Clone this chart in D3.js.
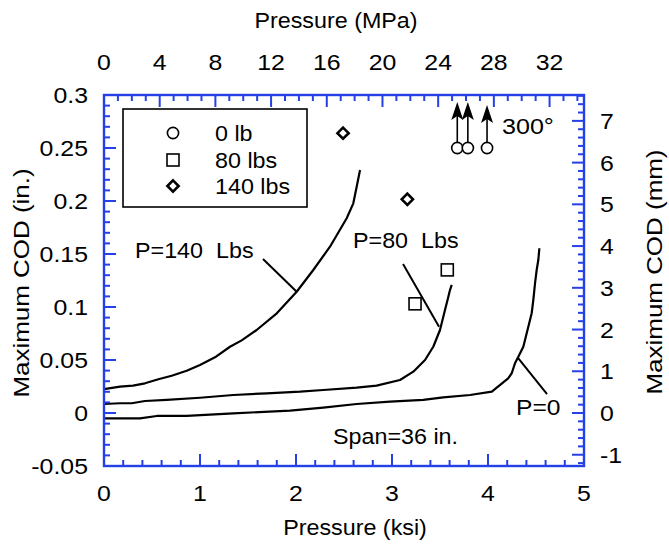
<!DOCTYPE html>
<html>
<head>
<meta charset="utf-8">
<script src="https://cdn.jsdelivr.net/npm/d3@7"></script>
<style>
  html, body { margin: 0; padding: 0; background: #fff; }
  svg { display: block; }
  text { font-family: "Liberation Sans", Arial, Helvetica, sans-serif; fill: #000; white-space: pre; }
</style>
</head>
<body>
<svg id="chart" width="669" height="546"></svg>
<script>
// ---- data (pressure in ksi, maximum COD in inches) ----
const curveP0 = [
  [0, -0.005], [0.167, -0.005], [0.375, -0.005], [0.549, -0.0028], [0.861, -0.0028],
  [1.347, -0.0003], [1.9375, 0.0022], [2.284, 0.005], [2.632, 0.0085], [2.979, 0.0107],
  [3.326, 0.0123], [3.534, 0.0148], [3.8125, 0.017], [4.04, 0.0201], [4.21, 0.0327],
  [4.247, 0.0375], [4.281, 0.0469], [4.316, 0.0531], [4.368, 0.0625], [4.42, 0.0814],
  [4.455, 0.0941], [4.472, 0.1066], [4.49, 0.1224], [4.507, 0.1349], [4.524, 0.1443],
  [4.535, 0.1554]
];
const curveP80 = [
  [0, 0.0085], [0.167, 0.0092], [0.289, 0.0092], [0.427, 0.0113], [0.653, 0.0123],
  [1.0, 0.0144], [1.347, 0.017], [1.695, 0.0186], [2.042, 0.0201], [2.284, 0.0217],
  [2.632, 0.0239], [2.84, 0.0258], [3.083, 0.0311], [3.222, 0.039], [3.344, 0.05],
  [3.43, 0.0625], [3.5, 0.0783], [3.552, 0.0972], [3.587, 0.1097], [3.604, 0.116],
  [3.622, 0.1208]
];
const curveP140 = [
  [0, 0.0225], [0.167, 0.0248], [0.302, 0.0258], [0.427, 0.028], [0.566, 0.0318],
  [0.705, 0.0352], [0.861, 0.0399], [1.0, 0.0453], [1.156, 0.0525], [1.3125, 0.0625],
  [1.434, 0.0685], [1.59, 0.0783], [1.8, 0.094], [2.007, 0.1144], [2.18, 0.1349],
  [2.354, 0.1569], [2.528, 0.1837], [2.597, 0.1978], [2.632, 0.2135], [2.667, 0.2292]
];

// measured points for each load
const pts0lb = [[3.68, 0.25], [3.79, 0.25], [3.99, 0.25]];   // off-scale (arrows)
const pts80lb = [[3.24, 0.103], [3.576, 0.135]];
const pts140lb = [[2.49, 0.264], [3.16, 0.2016]];

const legendLabels = ["0 lb", "80 lbs", "140 lbs"];

// axis ticks
const ksiTicks = [0, 1, 2, 3, 4, 5];
const mpaTicks = [0, 4, 8, 12, 16, 20, 24, 28, 32];
const inTicks = [-0.05, 0, 0.05, 0.1, 0.15, 0.2, 0.25, 0.3];
const mmTicks = [-1, 0, 1, 2, 3, 4, 5, 6, 7];

const KSI_PER_MPA = 1 / 6.894757;
const IN_PER_MM = 1 / 25.4;

// ---- layout ----
const svg = d3.select("#chart");
const L = 104, R = 584, T = 95, B = 466;
const x = d3.scaleLinear().domain([0, 5]).range([L, R]);
const y = d3.scaleLinear().domain([-0.05, 0.3]).range([B, T]);
const xMPa = d3.scaleLinear().domain([0, 5 / KSI_PER_MPA]).range([L, R]);
const yMM = d3.scaleLinear().domain([-0.05 / IN_PER_MM, 0.3 / IN_PER_MM]).range([B, T]);

const AXIS = "#2440e6";
const FS = 22;

function label(g, px, py, s, anchor, rot, sx) {
  return g.append("text")
    .attr("transform", `translate(${px},${py})` + (rot ? ` rotate(${rot})` : "") + ` scale(${sx || 1.06},1)`)
    .attr("font-size", FS)
    .attr("text-anchor", anchor || "start")
    .text(s);
}

// ---- curves ----
const line = d3.line().x(d => x(d[0])).y(d => y(d[1]));
const gc = svg.append("g");
[curveP0, curveP80, curveP140].forEach(c => {
  gc.append("path").attr("d", line(c))
    .attr("fill", "none").attr("stroke", "#000").attr("stroke-width", 2.2)
    .attr("stroke-linejoin", "round");
});

// ---- markers ----
const gm = svg.append("g").attr("fill", "none").attr("stroke", "#000");
function circleAt(g, cx, cy) {
  g.append("circle").attr("cx", cx).attr("cy", cy).attr("r", 5.6).attr("stroke-width", 1.6).attr("fill", "#fff");
}
function squareAt(g, cx, cy) {
  g.append("rect").attr("x", cx - 6).attr("y", cy - 6).attr("width", 12).attr("height", 12).attr("stroke-width", 1.6).attr("fill", "#fff");
}
function diamondAt(g, cx, cy) {
  const h = 5.6;
  g.append("path").attr("d", `M${cx},${cy - h}L${cx + h},${cy}L${cx},${cy + h}L${cx - h},${cy}Z`)
    .attr("stroke-width", 2.6).attr("fill", "#fff");
}

pts0lb.forEach((d, i) => {
  const cx = x(d[0]), cy = y(d[1]);
  const tip = cy - (i === 2 ? 43 : 46);
  gm.append("line").attr("x1", cx).attr("y1", cy - 5.6).attr("x2", cx).attr("y2", tip + 10)
    .attr("stroke-width", 1.6);
  gm.append("path")
    .attr("d", `M${cx},${tip}L${cx + 6},${tip + 18}L${cx},${tip + 14}L${cx - 6},${tip + 18}Z`)
    .attr("fill", "#000").attr("stroke", "none");
  circleAt(gm, cx, cy);
});
pts80lb.forEach(d => squareAt(gm, x(d[0]), y(d[1])));
pts140lb.forEach(d => diamondAt(gm, x(d[0]), y(d[1])));

// ---- annotations ----
const ga = svg.append("g");
const leaders = [
  [[1.656, 0.1453], [2.01, 0.1142]],
  [[3.115, 0.1406], [3.49, 0.0813]],
  [[4.312, 0.0519], [4.615, 0.0179]]
];
leaders.forEach(s => {
  ga.append("line").attr("x1", x(s[0][0])).attr("y1", y(s[0][1]))
    .attr("x2", x(s[1][0])).attr("y2", y(s[1][1]))
    .attr("stroke", "#000").attr("stroke-width", 2);
});
label(ga, 135, 258, "P=140  Lbs");
label(ga, 353, 248, "P=80  Lbs");
label(ga, 516, 415, "P=0", "start", 0, 1.12);
label(ga, 333, 444, "Span=36 in.");
label(ga, 502, 134, "300°", "start", 0, 1.14);

// ---- legend ----
const gl = svg.append("g");
gl.append("rect").attr("x", 123).attr("y", 109).attr("width", 184).attr("height", 98)
  .attr("fill", "#fff").attr("stroke", "#000").attr("stroke-width", 1.6);
const lgY = [133, 160, 186];
const glm = gl.append("g").attr("fill", "none").attr("stroke", "#000");
circleAt(glm, 173, lgY[0]);
squareAt(glm, 173, lgY[1]);
diamondAt(glm, 173, lgY[2]);
legendLabels.forEach((s, i) => label(gl, 215, lgY[i] + 8, s));

// ---- axes frame and ticks ----
const gx = svg.append("g").attr("stroke", AXIS).attr("stroke-width", 2);
const MAJ = 12, MIN = 6;
// bottom (ksi): major 1, minor 0.2
d3.range(0, 5.0001, 0.2).forEach(v => {
  const major = Math.abs(v - Math.round(v)) < 1e-6;
  gx.append("line").attr("x1", x(v)).attr("x2", x(v)).attr("y1", B).attr("y2", B - (major ? MAJ : MIN));
});
// top (MPa): major 4, minor 1
d3.range(0, 5 / KSI_PER_MPA, 1).forEach(v => {
  const major = v % 4 === 0;
  gx.append("line").attr("x1", xMPa(v)).attr("x2", xMPa(v)).attr("y1", T).attr("y2", T + (major ? MAJ : MIN));
});
// left (in.): major 0.05, minor 0.01
d3.range(-5, 31, 1).forEach(k => {
  const v = k / 100;
  const major = k % 5 === 0;
  gx.append("line").attr("y1", y(v)).attr("y2", y(v)).attr("x1", L).attr("x2", L + (major ? MAJ : MIN));
});
// right (mm): major 1, minor 0.2
d3.range(-6, 39, 1).forEach(k => {
  const v = k / 5;
  if (v < yMM.domain()[0] || v > yMM.domain()[1]) return;
  const major = k % 5 === 0;
  gx.append("line").attr("y1", yMM(v)).attr("y2", yMM(v)).attr("x1", R).attr("x2", R - (major ? MAJ : MIN));
});
svg.append("rect").attr("x", L).attr("y", T).attr("width", R - L).attr("height", B - T)
  .attr("fill", "none").attr("stroke", AXIS).attr("stroke-width", 2.4);

// ---- tick labels ----
const gt = svg.append("g");
const NSX = 1.13;
ksiTicks.forEach(v => label(gt, x(v), 501, String(v), "middle", 0, NSX));
mpaTicks.forEach(v => label(gt, xMPa(v), 70, String(v), "middle", 0, NSX));
inTicks.forEach(v => label(gt, 88, y(v) + 8, String(v), "end", 0, NSX));
mmTicks.forEach(v => label(gt, 600, yMM(v) + 8, String(v), "start", 0, NSX));

// ---- axis titles ----
label(svg, 355, 535, "Pressure (ksi)", "middle");
label(svg, 336, 28, "Pressure (MPa)", "middle");
label(svg, 29, 283, "Maximum COD (in.)", "middle", -90, 1.18);
label(svg, 662, 272, "Maximum COD (mm)", "middle", -90, 1.18);
</script>
</body>
</html>
